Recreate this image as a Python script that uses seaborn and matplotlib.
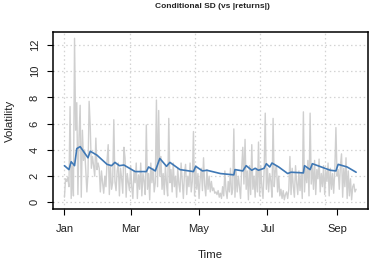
import numpy as np
import pandas as pd
import matplotlib
matplotlib.use("Agg")
import matplotlib.pyplot as plt
import matplotlib.dates as mdates
import seaborn as sns

# ---- data ----
start_date = "2015-01-01"
abs_returns = [
    0.4, 1.8, 1.6, 1.9, 1.2, 7.3, 0.3, 2.8, 0.5, 12.5,
    5.5, 7.6, 0.6, 5.0, 7.4, 0.4, 5.5, 3.2, 4.0, 2.5,
    0.8, 2.2, 7.7, 5.8, 2.6, 3.5, 2.8, 2.0, 4.9, 2.5,
    3.0, 2.6, 0.8, 2.4, 1.5, 0.7, 2.0, 1.2, 3.2, 4.4,
    0.6, 2.8, 1.0, 1.5, 6.3, 1.6, 0.9, 2.4, 3.0, 0.5,
    2.6, 1.8, 0.7, 4.2, 3.4, 0.4, 2.2, 1.5, 0.9, 2.8,
    1.2, 0.3, 2.4, 1.5, 3.0, 0.3, 2.1, 1.0, 3.0, 0.5,
    2.2, 1.6, 0.6, 5.9, 1.0, 2.2, 0.2, 3.0, 1.5, 2.6,
    0.8, 1.5, 7.8, 1.2, 7.0, 2.0, 3.5, 1.0, 2.2, 0.6,
    2.8, 1.4, 0.5, 6.4, 1.5, 2.5, 0.8, 3.0, 1.2, 2.0,
    0.4, 2.6, 1.4, 0.8, 3.0, 1.6, 0.3, 2.2, 2.9, 0.6,
    2.0, 1.2, 3.0, 0.8, 1.6, 5.4, 0.5, 2.8, 1.0, 2.2,
    0.3, 1.8, 2.6, 0.9, 3.4, 1.3, 0.5, 2.5, 1.0, 2.0,
    0.8, 1.6, 0.9, 1.1, 0.7, 0.8, 0.6, 0.9, 0.4, 0.7,
    0.3, 1.2, 0.5, 2.4, 0.9, 0.3, 1.6, 0.8, 2.6, 0.6,
    1.0, 5.6, 0.4, 2.4, 0.8, 2.0, 1.2, 0.3, 2.6, 4.2,
    1.4, 4.8, 1.0, 2.4, 0.2, 2.8, 0.6, 4.4, 1.0, 2.0,
    0.4, 2.6, 0.8, 4.6, 0.5, 2.8, 1.2, 0.3, 2.4, 6.8,
    1.0, 2.6, 0.8, 2.2, 1.6, 0.4, 6.4, 1.2, 2.4, 2.8,
    0.8, 2.0, 0.5, 1.0, 0.3, 0.9, 0.2, 0.6, 0.8, 0.3,
    1.0, 3.5, 0.6, 2.6, 1.2, 0.4, 2.8, 1.5, 0.6, 2.4,
    0.9, 2.2, 0.3, 6.9, 0.8, 2.6, 1.5, 3.2, 0.5, 6.8,
    1.4, 2.8, 1.0, 3.2, 0.6, 2.5, 1.8, 3.3, 0.8, 2.2,
    1.2, 2.8, 0.6, 2.4, 1.6, 3.0, 0.5, 2.6, 1.0, 2.2,
    0.7, 2.4, 5.7, 2.0, 2.5, 1.0, 2.8, 3.7, 0.4, 2.6,
    1.2, 3.4, 0.3, 2.4, 0.5, 1.8, 0.2, 1.2, 1.4, 0.8, 1.0,
]
sd_days = [0, 4, 6, 9, 11, 14, 21, 23, 29, 38, 42, 45, 49, 53, 63, 73, 75, 81, 85,
           91, 94, 103, 115, 117, 123, 127, 139, 151, 152, 159, 162, 167, 170, 173,
           178, 180, 183, 185, 191, 199, 202, 213, 214, 219, 221, 237, 242, 244, 252, 260]
sd_values = [2.8, 2.5, 3.1, 2.8, 4.1, 4.25, 3.4, 3.9, 3.6, 2.9, 2.8, 3.05, 2.8, 2.85, 2.35,
             2.35, 2.7, 2.4, 3.35, 2.75, 3.05, 2.5, 2.35, 2.75, 2.4, 2.45, 2.2, 2.1, 2.5,
             2.4, 2.8, 2.45, 2.6, 2.45, 2.6, 2.95, 2.7, 3.0, 2.7, 2.2, 2.3, 2.25, 2.8,
             2.5, 2.95, 2.45, 2.4, 2.9, 2.7, 2.3]
tick_dates = ["2015-01-01", "2015-03-01", "2015-05-01", "2015-07-01", "2015-09-01"]
tick_labels = ["Jan", "Mar", "May", "Jul", "Sep"]
y_ticks = [0, 2, 4, 6, 8, 10, 12]

dates = pd.date_range(start_date, periods=len(abs_returns), freq="D")
df_ret = pd.DataFrame({"date": dates, "absret": abs_returns})
df_sd = pd.DataFrame({"date": pd.Timestamp(start_date) + pd.to_timedelta(sd_days, unit="D"),
                      "sd": sd_values})

sns.set_style("white")
plt.rcParams["font.family"] = ["Liberation Sans", "DejaVu Sans"]

fig = plt.figure(figsize=(3.71, 2.63), dpi=100)
ax = fig.add_axes([53 / 371, 1 - 209 / 263, (368 - 53) / 371, (209 - 32) / 263])

# grid (R-style dotted light grey)
t0 = pd.Timestamp(start_date)
for k in range(5):
    ax.axvline(t0 + pd.Timedelta(days=58 * k), color="#d3d3d3", lw=0.9,
               ls=(0, (1.2, 2.2)), zorder=0)
for yv in y_ticks:
    ax.axhline(yv, color="#d3d3d3", lw=0.9, ls=(0, (1.2, 2.2)), zorder=0)

sns.lineplot(data=df_ret, x="date", y="absret", ax=ax, color="#cfcfcf", lw=1.0, zorder=2)
sns.lineplot(data=df_sd, x="date", y="sd", ax=ax, color="#3f78b5", lw=1.2, zorder=3)

ax.set_xlim(t0 - pd.Timedelta(days=10.2), t0 + pd.Timedelta(days=270.6))
ax.set_ylim(-0.5, 12.98)

ax.set_xticks(pd.to_datetime(tick_dates))
ax.set_xticklabels(tick_labels)
ax.set_yticks(y_ticks)
ax.set_yticklabels([str(v) for v in y_ticks], rotation=90, va="center")

ax.tick_params(axis="both", direction="out", length=4.5, width=0.8, color="black",
               labelsize=8, labelcolor="#222222")
ax.tick_params(axis="x", pad=6)
ax.tick_params(axis="y", pad=5)
ax.tick_params(bottom=True, left=True)

for s in ax.spines.values():
    s.set_color("black")
    s.set_linewidth(1.1)

ax.set_xlabel("Time", fontsize=8.2, color="#222222", labelpad=12)
ax.set_ylabel("Volatility", fontsize=8.2, color="#222222", labelpad=11)
fig.text(0.5 * (53 + 368) / 371 + 0.005, 1 - 7 / 263, "Conditional SD (vs |returns|)",
         ha="center", va="center", fontsize=6.0, fontweight="bold", color="#222222")

fig.savefig("out.png", dpi=100)
